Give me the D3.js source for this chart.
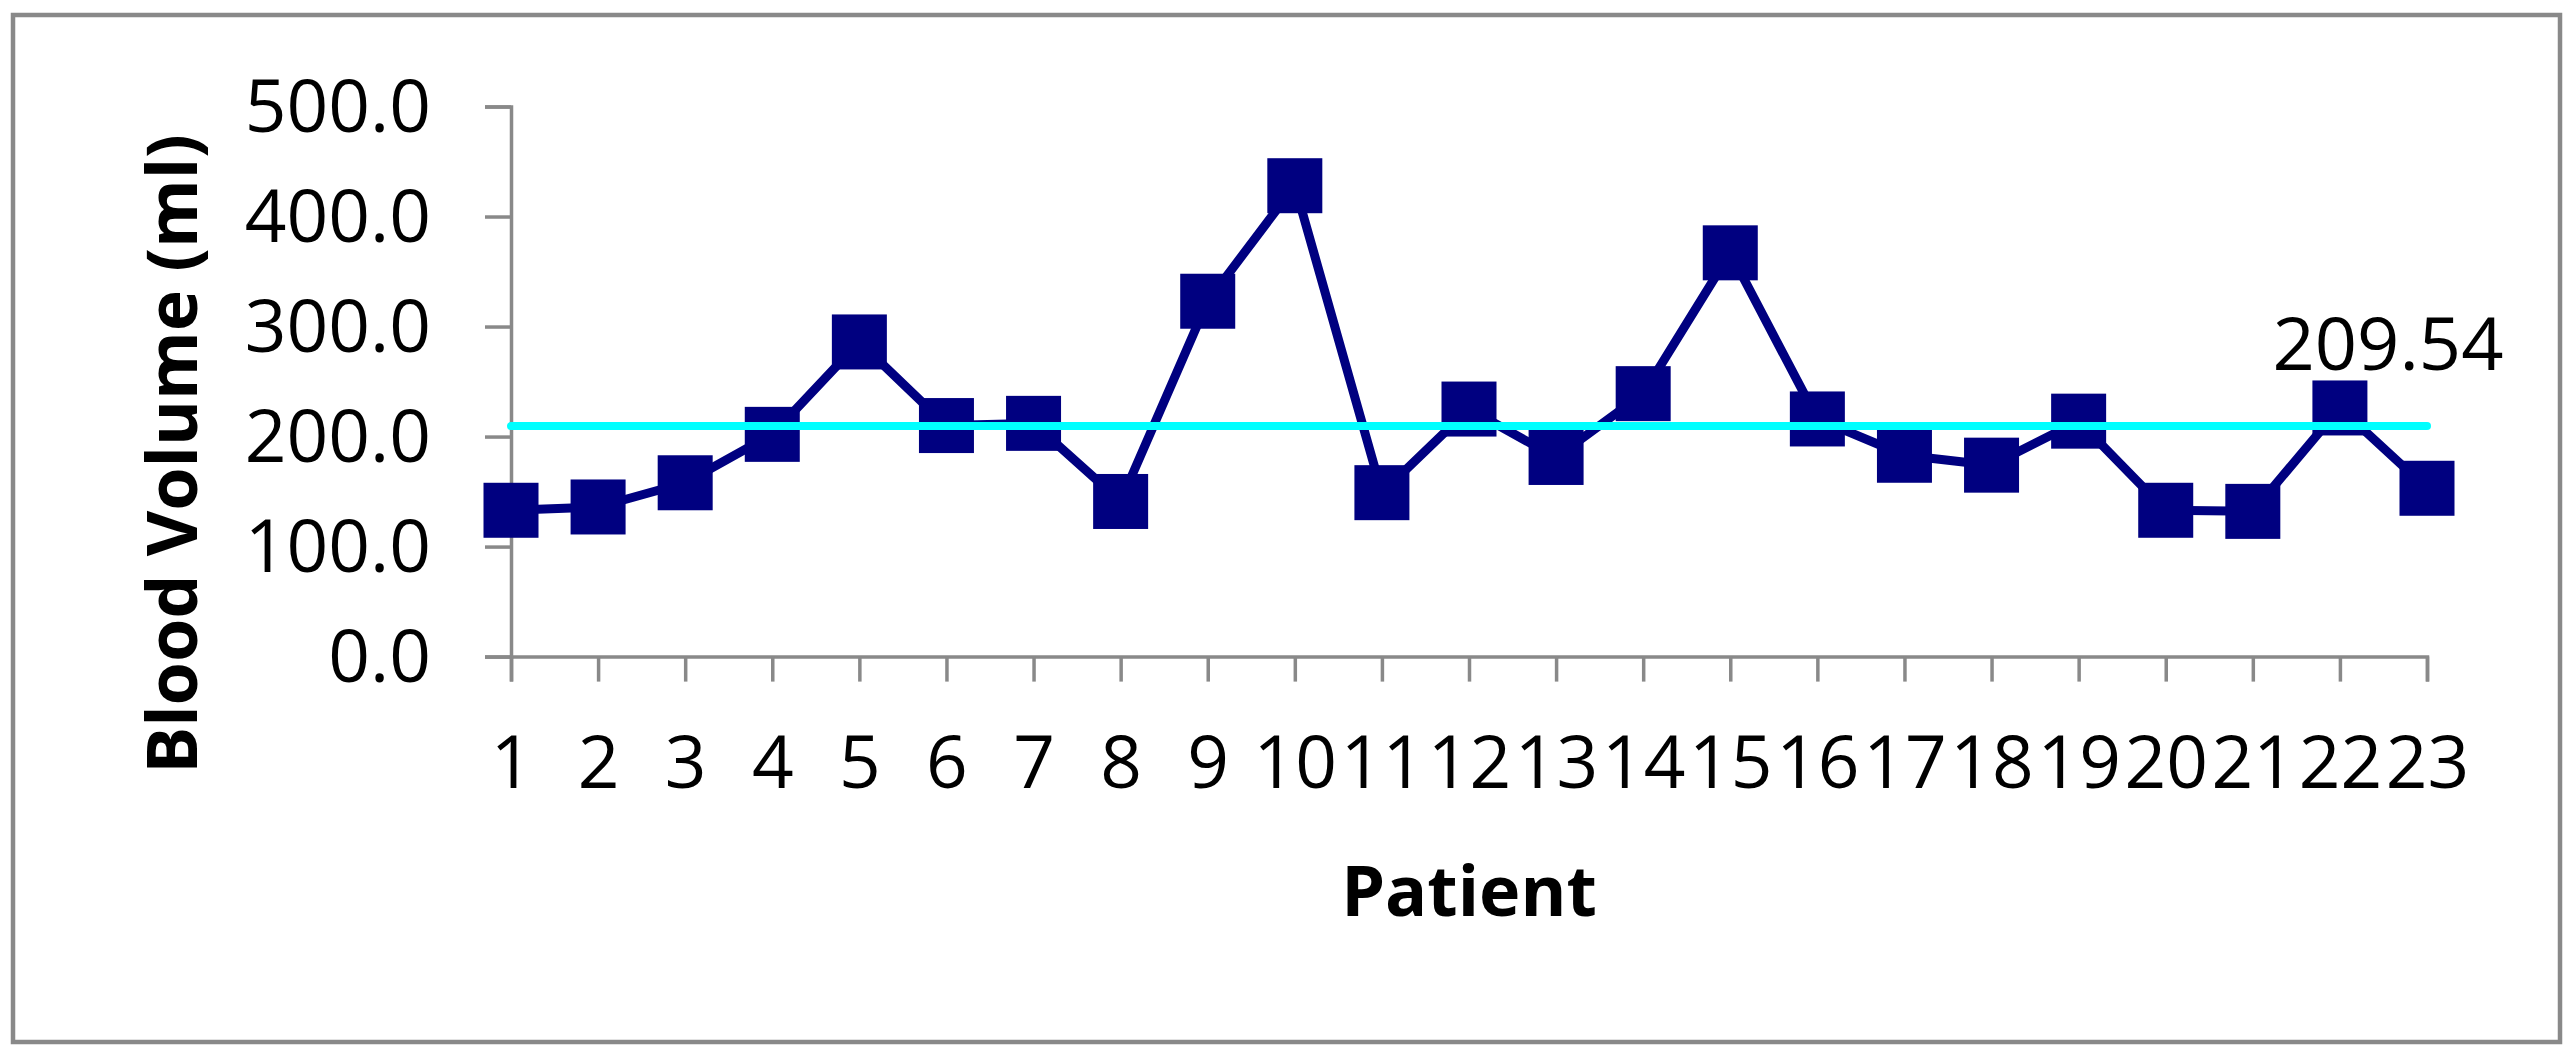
<!DOCTYPE html>
<html>
<head>
<meta charset="utf-8">
<script src="https://cdn.jsdelivr.net/npm/d3@7"></script>
<style>
  body { margin: 0; background: #fff; }
  text { font-family: "Open Sans", sans-serif; fill: #000; }
</style>
</head>
<body>
<svg width="2575" height="1059"></svg>
<script>
// data
var patients = d3.range(1, 24).map(String);
var volumes = [133, 136, 158, 202, 286, 210, 212, 141, 323, 428, 149, 225, 181, 239,
               367, 216, 183, 174, 214, 133, 132, 226, 153];
var meanVolume = 209.54;
var yTicks = [0, 100, 200, 300, 400, 500];

var svg = d3.select("svg"),
    width = +svg.attr("width"),
    height = +svg.attr("height");

// chart border
svg.append("rect")
    .attr("x", 13).attr("y", 15)
    .attr("width", 2547).attr("height", 1027)
    .attr("fill", "none")
    .attr("stroke", "#898989")
    .attr("stroke-width", 4.5);

var x = d3.scalePoint().domain(patients).range([511, 2427]);
var y = d3.scaleLinear().domain([0, 500]).range([656.6, 106.5]);

// y axis
var yAxis = svg.append("g")
    .attr("transform", "translate(" + x.range()[0] + ",0)")
    .call(d3.axisLeft(y).tickValues(yTicks).tickFormat(d3.format(".1f")).tickSize(26).tickPadding(54));
yAxis.selectAll("text")
    .style("font-size", "73px")
    .attr("dy", "0.34em");

// x axis
var xAxis = svg.append("g")
    .attr("transform", "translate(0," + y(0) + ")")
    .call(d3.axisBottom(x).tickSize(25));
xAxis.selectAll("text")
    .style("font-size", "73px")
    .attr("y", 131)
    .attr("dy", null);

svg.selectAll(".domain, .tick line")
    .attr("stroke", "#898989")
    .attr("stroke-width", 3.5);

// series
var line = d3.line()
    .x(function(d, i) { return x(patients[i]); })
    .y(function(d) { return y(d); });

svg.append("path")
    .datum(volumes)
    .attr("d", line)
    .attr("fill", "none")
    .attr("stroke", "#000080")
    .attr("stroke-width", 9)
    .attr("stroke-linejoin", "round");

svg.append("g").selectAll("rect")
    .data(volumes)
    .enter()
    .append("rect")
    .attr("x", function(d, i) { return x(patients[i]) - 27.5; })
    .attr("y", function(d) { return y(d) - 27.5; })
    .attr("width", 55)
    .attr("height", 55)
    .attr("fill", "#000080");

// mean line
svg.append("line")
    .attr("x1", x(patients[0]))
    .attr("x2", x(patients[patients.length - 1]))
    .attr("y1", y(meanVolume))
    .attr("y2", y(meanVolume))
    .attr("stroke", "#00FFFF")
    .attr("stroke-width", 8)
    .attr("stroke-linecap", "round");

svg.append("text")
    .attr("x", x(patients[patients.length - 1]) - 39)
    .attr("y", y(meanVolume) - 56)
    .attr("text-anchor", "middle")
    .style("font-size", "74px")
    .text(meanVolume.toFixed(2));

// axis titles
svg.append("text")
    .attr("x", (x.range()[0] + x.range()[1]) / 2)
    .attr("y", 916)
    .attr("text-anchor", "middle")
    .style("font-size", "70px")
    .style("font-weight", "bold")
    .text("Patient");

svg.append("text")
    .attr("transform", "translate(197,454) rotate(-90)")
    .attr("text-anchor", "middle")
    .style("font-size", "70px")
    .style("font-weight", "bold")
    .text("Blood Volume (ml)");
</script>
</body>
</html>
